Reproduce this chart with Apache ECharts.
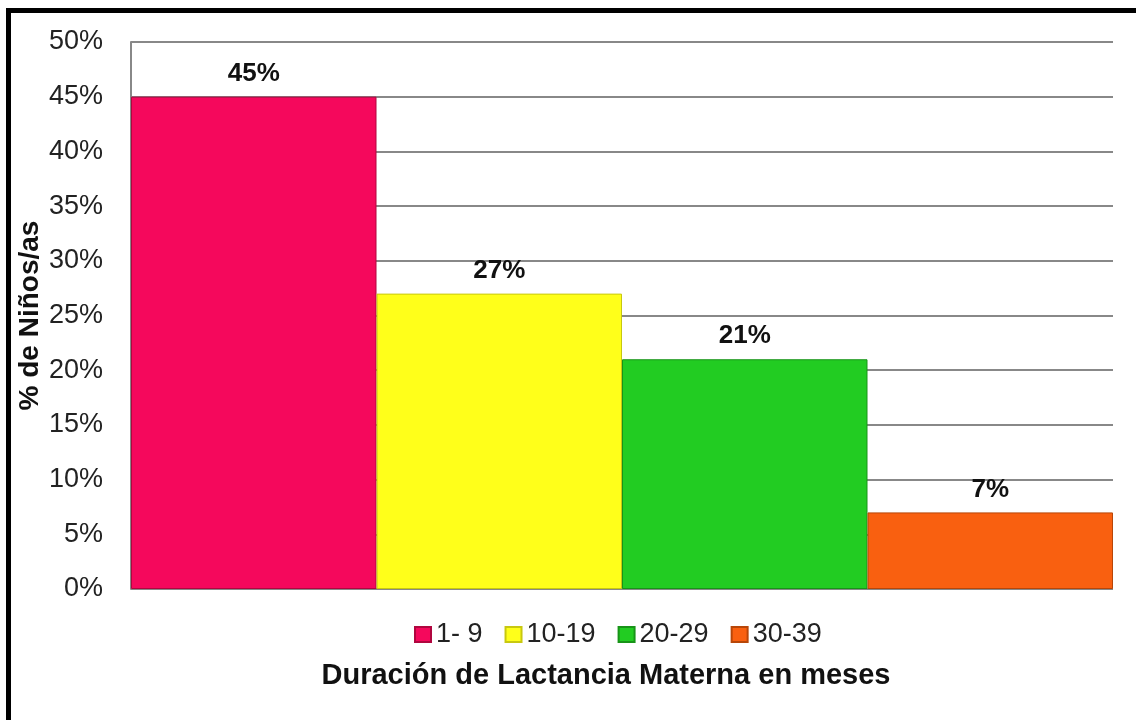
<!DOCTYPE html>
<html>
<head>
<meta charset="utf-8">
<script src="https://cdn.jsdelivr.net/npm/echarts@6/dist/echarts.min.js"></script>
<style>
    body { margin: 0; background: #fff; }
    #frame {
        position: absolute; left: 6px; top: 8px; width: 1200px; height: 800px;
        border-top: 5px solid #000; border-left: 5px solid #000;
    }
    #myChart { position: absolute; left: 0; top: 0; width: 1136px; height: 720px; }
</style>
</head>
<body>
<div id="frame"></div>
<div id="myChart"></div>
<script>
    // datos
    var categorias = ['1- 9', '10-19', '20-29', '30-39'];
    var valores = [45, 27, 21, 7];
    var colores = ['#F5085C', '#FFFF1A', '#22CC22', '#F96010'];
    var bordes = ['#B0063F', '#C8C810', '#189418', '#B84608'];
    var yTicks = [0, 50, 5];

    var myChart = echarts.init(document.getElementById('myChart'));

    var series = [];
    for (var i = 0; i < categorias.length; i++) {
        var d = [];
        for (var j = 0; j < categorias.length; j++) {
            d.push(i === j ? valores[i] : '-');
        }
        series.push({
            name: categorias[i],
            type: 'bar',
            stack: 'total',
            barCategoryGap: 0,
            data: d,
            itemStyle: { color: colores[i], borderColor: bordes[i], borderWidth: 1 },
            label: {
                show: true,
                position: 'top',
                distance: 10,
                formatter: '{c}%',
                fontFamily: 'Liberation Sans',
                fontWeight: 'bold',
                fontSize: 26,
                color: '#111'
            }
        });
    }

    var option = {
        animation: false,
        grid: { left: 131, right: 23, top: 42, bottom: 131 },
        legend: {
            data: categorias,
            top: 616,
            left: 409,
            itemWidth: 16,
            itemHeight: 15,
            itemGap: 22,
            icon: 'rect',
            textStyle: { fontFamily: 'Liberation Sans', fontSize: 27, color: '#222' }
        },
        xAxis: {
            type: 'category',
            data: categorias,
            axisLine: { show: false },
            axisTick: { show: false },
            axisLabel: { show: false },
            name: 'Duración de Lactancia Materna en meses',
            nameLocation: 'middle',
            nameGap: 72,
            nameTextStyle: {
                fontFamily: 'Liberation Sans', fontWeight: 'bold', fontSize: 29, color: '#111',
                padding: [0, 32, 0, 0]
            }
        },
        yAxis: {
            type: 'value',
            min: yTicks[0],
            max: yTicks[1],
            interval: yTicks[2],
            axisLine: { show: true, lineStyle: { color: '#888', width: 2 } },
            axisTick: { show: false },
            splitLine: { lineStyle: { color: '#888', width: 2 } },
            axisLabel: {
                formatter: '{value}%',
                margin: 28,
                fontFamily: 'Liberation Sans',
                fontSize: 27,
                color: '#222'
            },
            name: '% de Niños/as',
            nameLocation: 'middle',
            nameGap: 87,
            nameMoveOverlap: false,
            nameRotate: 90,
            nameTextStyle: { fontFamily: 'Liberation Sans', fontWeight: 'bold', fontSize: 28, color: '#111' }
        },
        series: series
    };
    myChart.setOption(option);
</script>
</body>
</html>
